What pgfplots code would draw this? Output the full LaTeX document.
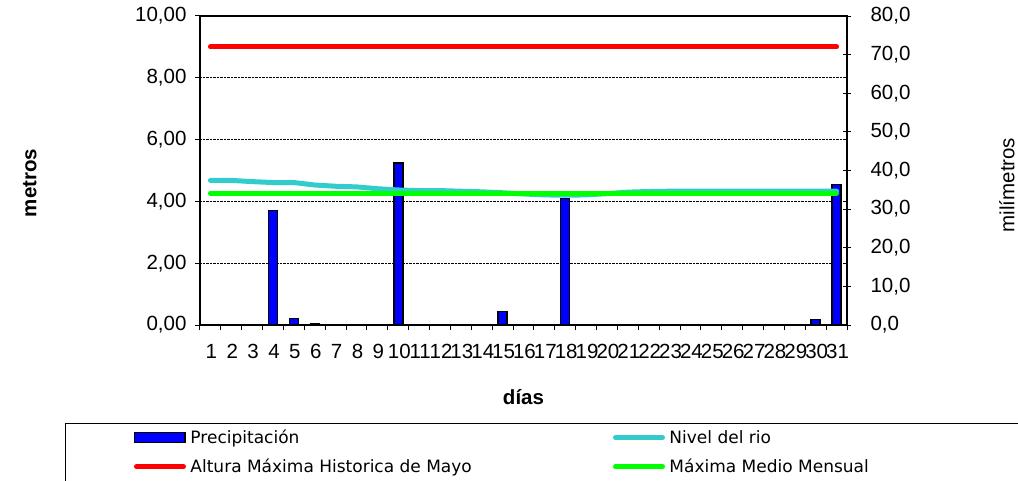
\documentclass[border=0pt]{standalone}
\usepackage{fontspec}
\setmainfont{Liberation Sans}
\newfontfamily\legfont{DejaVu Sans}
\usepackage{pgfplots}
\pgfplotsset{compat=1.18}

\definecolor{barblue}{RGB}{0,0,255}
\definecolor{rioc}{RGB}{51,204,204}
\definecolor{maxred}{RGB}{255,0,0}
\definecolor{mmgreen}{RGB}{0,255,0}

\newcommand{\tf}{\fontsize{20.5}{24}\selectfont}

\begin{document}
\begin{tikzpicture}[x=1pt,y=1pt]
\useasboundingbox (0,0) rectangle (1018,480);
\clip (0,0) rectangle (1018,480);

% Axis A: left axis (metros), box and grid
\begin{axis}[
  at={(200pt,155pt)}, anchor=south west,
  width=647pt, height=309pt, scale only axis,
  xmin=0.5, xmax=31.5, ymin=0, ymax=10,
  /pgf/number format/assume math mode=true,
  xtick={1,2,...,31},
  minor xtick={0.5,1.5,...,31.5},
  major x tick style={draw=none},
  xtick pos=bottom, ytick pos=left,
  tick align=outside,
  major tick length=5pt, minor tick length=5pt,
  tick style={black, line width=1pt},
  ytick={0,2,4,6,8,10},
  ymajorgrids=true,
  grid style={black, densely dotted, line width=0.8pt},
  axis line style={black, line width=1.2pt},
  ticklabel style={font=\tf},
  xticklabel style={yshift=-11pt, xshift=1pt},
  yticklabel style={xshift=-5pt, /pgf/number format/.cd, fixed, fixed zerofill, precision=2, use comma, assume math mode=true},
  xlabel={\textbf{días}},
  ylabel={\textbf{metros}},
  every axis x label/.style={at={(axis description cs:0.5,-0.233)}, anchor=center, font=\tf},
  every axis y label/.style={at={(axis description cs:-0.263,0.46)}, rotate=90, anchor=center, font=\tf},
]
\addplot[draw=none, forget plot] coordinates {(1,0)};
\end{axis}

% Axis B: right axis (milimetros), bars
\begin{axis}[
  at={(200pt,155pt)}, anchor=south west,
  width=647pt, height=309pt, scale only axis,
  xmin=0.5, xmax=31.5, ymin=0, ymax=80,
  axis y line*=right, axis x line=none,
  /pgf/number format/assume math mode=true,
  ytick={0,10,...,80},
  tick align=center, major tick length=8pt,
  tick style={black, line width=1pt},
  axis line style={black, line width=1.2pt},
  ticklabel style={font=\tf},
  yticklabel style={xshift=16pt, /pgf/number format/.cd, fixed, fixed zerofill, precision=1, use comma, assume math mode=true},
  ylabel={milímetros},
  every axis y label/.style={at={(axis description cs:1.247,0.453)}, rotate=90, anchor=center, font=\tf},
]
\addplot[ybar, bar width=9pt, fill=barblue, draw=black, line width=1.5pt] coordinates {
  (4,29.7) (5,1.7) (6,0.3) (10,42.0) (15,3.5) (18,32.7) (30,1.4) (31,36.4)
};
\end{axis}

% Axis C: lines on the metros scale, with legend
\begin{axis}[
  at={(200pt,155pt)}, anchor=south west,
  width=647pt, height=309pt, scale only axis,
  xmin=0.5, xmax=31.5, ymin=0, ymax=10,
  hide axis,
  legend columns=2,
  legend cell align=left,
  legend style={
    at={(axis description cs:-0.2087,-0.316)}, anchor=north west,
    draw=black, line width=1pt, fill=white,
    inner xsep=66pt, inner ysep=5pt,
    row sep=10pt,
    font=\legfont\fontsize{17}{20}\selectfont,
    /tikz/every even column/.append style={column sep=0pt},
  },
]
\addlegendimage{legend image code/.code={
  \draw[fill=barblue, draw=black, line width=1.5pt] (0.75pt,-5pt) rectangle (51.25pt,5pt);
  \path (0pt,0pt) (52pt,0pt);}}
\addlegendentry{\makebox[418pt][l]{Precipitación}}
\addlegendimage{rioc, line width=5pt, line cap=round, legend image code/.code={
  \draw (2.5pt,0pt) -- (49.5pt,0pt); \path (0pt,0pt) (52pt,0pt);}}
\addlegendentry{\makebox[420pt][l]{Nivel del rio}}
\addlegendimage{maxred, line width=5pt, line cap=round, legend image code/.code={
  \draw (2.5pt,0pt) -- (49.5pt,0pt); \path (0pt,0pt) (52pt,0pt);}}
\addlegendentry{\makebox[418pt][l]{Altura Máxima Historica de Mayo}\rule[-16pt]{0pt}{16pt}}
\addlegendimage{mmgreen, line width=5pt, line cap=round, legend image code/.code={
  \draw (2.5pt,0pt) -- (49.5pt,0pt); \path (0pt,0pt) (52pt,0pt);}}
\addlegendentry{\makebox[420pt][l]{Máxima Medio Mensual}}

\addplot[rioc, line width=5pt, line cap=round, line join=round, forget plot] coordinates {
  (1,4.68) (2,4.68) (3,4.64) (4,4.61) (5,4.61) (6,4.53) (7,4.49) (8,4.47)
  (9,4.41) (10,4.37) (11,4.35) (12,4.35) (13,4.33) (14,4.31) (15,4.28)
  (16,4.24) (17,4.21) (18,4.20) (19,4.21) (20,4.25) (21,4.30) (22,4.32)
  (23,4.33) (24,4.33) (25,4.33) (26,4.33) (27,4.33) (28,4.33) (29,4.33)
  (30,4.33) (31,4.33)
};
\addplot[maxred, line width=5pt, line cap=round, forget plot] coordinates {
  (1,9.0) (2,9.0) (3,9.0) (4,9.0) (5,9.0) (6,9.0) (7,9.0) (8,9.0) (9,9.0) (10,9.0)
  (11,9.0) (12,9.0) (13,9.0) (14,9.0) (15,9.0) (16,9.0) (17,9.0) (18,9.0) (19,9.0)
  (20,9.0) (21,9.0) (22,9.0) (23,9.0) (24,9.0) (25,9.0) (26,9.0) (27,9.0) (28,9.0)
  (29,9.0) (30,9.0) (31,9.0)
};
\addplot[mmgreen, line width=5pt, line cap=round, forget plot] coordinates {
  (1,4.27) (2,4.27) (3,4.27) (4,4.27) (5,4.27) (6,4.27) (7,4.27) (8,4.27) (9,4.27)
  (10,4.27) (11,4.27) (12,4.27) (13,4.27) (14,4.27) (15,4.27) (16,4.27) (17,4.27)
  (18,4.27) (19,4.27) (20,4.27) (21,4.27) (22,4.27) (23,4.27) (24,4.27) (25,4.27)
  (26,4.27) (27,4.27) (28,4.27) (29,4.27) (30,4.27) (31,4.27)
};
\end{axis}
\end{tikzpicture}
\end{document}
